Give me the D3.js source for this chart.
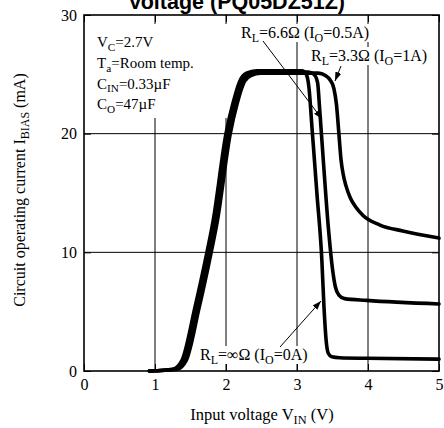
<!DOCTYPE html>
<html><head><meta charset="utf-8">
<script src="https://cdn.jsdelivr.net/npm/d3@7"></script>
<style>body{margin:0;background:#fff}svg{display:block}</style>
</head><body>
<svg id="c" width="444" height="428"></svg>
<script>
// ---- data ----
const xTicks = [0, 1, 2, 3, 4, 5];
const yTicks = [0, 10, 20, 30];
const xGrid = [1, 2, 3, 4];
const yGrid = [10, 20];
// Curve: RL = ∞ Ω (IO = 0A)
const vinInf  = [0.92, 1.25, 1.38, 1.56, 1.70, 1.82, 2.00, 2.10, 2.20, 2.29, 2.43, 3.07, 3.13, 3.17, 3.21, 3.28, 3.35, 3.38, 3.41, 3.44, 3.49, 3.60, 3.98, 5.0];
const ibInf   = [0, 0.15, 0.9, 5.3, 9.1, 12.7, 20.0, 22.6, 24.5, 25.1, 25.3, 25.3, 25.0, 23.8, 20.6, 15.0, 9.35, 5.4, 2.6, 1.5, 1.2, 1.12, 1.07, 1.0];
// Curve: RL = 6.6 Ω (IO = 0.5A)
const vin66   = [0.92, 1.28, 1.41, 1.59, 1.73, 1.85, 2.03, 2.13, 2.23, 2.32, 2.46, 3.16, 3.24, 3.29, 3.32, 3.37, 3.44, 3.50, 3.54, 3.59, 3.67, 3.98, 5.0];
const ib66    = [0, 0.15, 0.9, 5.3, 9.1, 12.7, 20.0, 22.6, 24.5, 25.0, 25.2, 25.2, 25.0, 24.3, 22.0, 17.8, 12.2, 8.6, 7.1, 6.4, 6.1, 5.95, 5.65];
// Curve: RL = 3.3 Ω (IO = 1A)
const vin33   = [0.92, 1.31, 1.44, 1.62, 1.76, 1.88, 2.06, 2.16, 2.26, 2.35, 2.49, 3.30, 3.40, 3.47, 3.52, 3.555, 3.59, 3.62, 3.65, 3.69, 3.75, 3.83, 3.93, 4.17, 4.49, 5.0];
const ib33    = [0, 0.15, 0.9, 5.3, 9.1, 12.7, 20.0, 22.6, 24.4, 24.9, 25.1, 25.1, 24.9, 24.5, 23.8, 22.5, 20.0, 17.8, 16.6, 15.6, 14.6, 13.8, 13.1, 12.3, 11.8, 11.2];

const svg = d3.select("#c");
const x = d3.scaleLinear().domain([0, 5]).range([84, 439]);
const y = d3.scaleLinear().domain([0, 30]).range([371, 15]);
const serif = "'Liberation Serif','Times New Roman',serif";

// title (cut off at top, as in the source image)
svg.append("text").attr("x", 345).attr("y", 9).attr("text-anchor", "end")
  .attr("font-family", "'Liberation Sans',Arial,sans-serif").attr("font-weight", "bold")
  .attr("font-size", 21.5).text("Voltage (PQ05DZ51Z)");

// grid
const g = svg.append("g");
g.selectAll(".gx").data(xGrid).join("line")
  .attr("x1", d => x(d)).attr("x2", d => x(d)).attr("y1", y(30)).attr("y2", y(0))
  .attr("stroke", "#000").attr("stroke-width", 1);
g.selectAll(".gy").data(yGrid).join("line")
  .attr("x1", x(0)).attr("x2", x(5)).attr("y1", d => y(d)).attr("y2", d => y(d))
  .attr("stroke", "#000").attr("stroke-width", 1);

// rich text helper
function rich(sel, parts, size) {
  parts.forEach(p => {
    if (p[1] === "sub") {
      sel.append("tspan").attr("font-size", size * 0.75).attr("dy", size * 0.25).text(p[0]);
    } else {
      const t = sel.append("tspan").text(p[0]);
      if (p[2]) t.attr("dy", -size * 0.25);
    }
  });
}

// white backgrounds for labels
const bg = svg.append("g").attr("fill", "#fff");
bg.append("rect").attr("x", 85).attr("y", 24).attr("width", 146).attr("height", 94);
bg.append("rect").attr("x", 238).attr("y", 24).attr("width", 146).attr("height", 18);
bg.append("rect").attr("x", 308).attr("y", 47).attr("width", 130).attr("height", 18);
bg.append("rect").attr("x", 197).attr("y", 346).attr("width", 124).attr("height", 18);

// axes
const ax = svg.append("g").attr("font-family", serif);
const axB = ax.append("g").attr("transform", `translate(0,${y(0)})`)
  .call(d3.axisBottom(x).tickValues(xTicks).tickSize(-7).tickPadding(8).tickFormat(d3.format("d")));
const axL = ax.append("g").attr("transform", `translate(${x(0)},0)`)
  .call(d3.axisLeft(y).tickValues(yTicks).tickSize(-7).tickPadding(7).tickFormat(d3.format("d")));
const axT = ax.append("g").attr("transform", `translate(0,${y(30)})`)
  .call(d3.axisTop(x).tickValues(xTicks).tickSize(-7).tickFormat(""));
const axR = ax.append("g").attr("transform", `translate(${x(5)},0)`)
  .call(d3.axisRight(y).tickValues(yTicks).tickSize(-7).tickFormat(""));
[axB, axL, axT, axR].forEach(a => {
  a.select(".domain").remove();
  a.selectAll("line").attr("stroke", "#000").attr("stroke-width", 1);
  a.selectAll("text").attr("font-size", 16).attr("font-family", serif).attr("fill", "#000");
});
svg.append("rect").attr("x", x(0)).attr("y", y(30)).attr("width", x(5) - x(0)).attr("height", y(0) - y(30))
  .attr("fill", "none").attr("stroke", "#000").attr("stroke-width", 1.6);

// curves
const line = d3.line().x(d => x(d[0])).y(d => y(d[1])).curve(d3.curveMonotoneX);
const series = [[vinInf, ibInf], [vin66, ib66], [vin33, ib33]];
svg.append("g").selectAll("path").data(series).join("path")
  .attr("d", s => line(s[0].map((v, i) => [v, s[1][i]])))
  .attr("fill", "none").attr("stroke", "#000").attr("stroke-width", 3.6)
  .attr("stroke-linejoin", "round").attr("stroke-linecap", "round");

// text box
const tb = svg.append("g").attr("font-family", serif).attr("font-size", 15).attr("fill", "#000");
const boxLines = [
  [["V"], ["C", "sub"], ["=2.7V", "", 1]],
  [["T"], ["a", "sub"], ["=Room temp.", "", 1]],
  [["C"], ["IN", "sub"], ["=0.33\u00B5F", "", 1]],
  [["C"], ["O", "sub"], ["=47\u00B5F", "", 1]]
];
boxLines.forEach((parts, i) => {
  rich(tb.append("text").attr("x", 97).attr("y", 47 + i * 20.8), parts, 15);
});

// curve labels
const lb = svg.append("g").attr("font-family", serif).attr("font-size", 16).attr("fill", "#000");
rich(lb.append("text").attr("x", 241).attr("y", 38),
  [["R"], ["L", "sub"], ["=6.6\u03A9 (I", "", 1], ["O", "sub"], ["=0.5A)", "", 1]], 16);
rich(lb.append("text").attr("x", 311).attr("y", 61),
  [["R"], ["L", "sub"], ["=3.3\u03A9 (I", "", 1], ["O", "sub"], ["=1A)", "", 1]], 16);
rich(lb.append("text").attr("x", 200).attr("y", 360),
  [["R"], ["L", "sub"], ["=\u221E\u03A9 (I", "", 1], ["O", "sub"], ["=0A)", "", 1]], 16);

// arrows
const defs = svg.append("defs");
defs.append("marker").attr("id", "ah").attr("viewBox", "0 0 10 10").attr("refX", 10).attr("refY", 5)
  .attr("markerWidth", 9).attr("markerHeight", 9).attr("markerUnits", "userSpaceOnUse").attr("orient", "auto")
  .append("path").attr("d", "M0,1.5 L10,5 L0,8.5 Z").attr("fill", "#000");
const arrows = [
  [[263, 41], [322, 119]],
  [[341, 66], [335, 81]],
  [[280, 347], [321, 301]]
];
svg.append("g").selectAll("line").data(arrows).join("line")
  .attr("x1", d => d[0][0]).attr("y1", d => d[0][1]).attr("x2", d => d[1][0]).attr("y2", d => d[1][1])
  .attr("stroke", "#000").attr("stroke-width", 1).attr("marker-end", "url(#ah)");

// axis titles
const xt = svg.append("text").attr("x", 262).attr("y", 420).attr("text-anchor", "middle")
  .attr("font-family", serif).attr("font-size", 16.5).attr("fill", "#000");
rich(xt, [["Input voltage V"], ["IN", "sub"], [" (V)", "", 1]], 16.5);
const yt = svg.append("text").attr("transform", "translate(25,190) rotate(-90)").attr("text-anchor", "middle")
  .attr("font-family", serif).attr("font-size", 16).attr("fill", "#000");
rich(yt, [["Circuit operating current I"], ["BIAS", "sub"], [" (mA)", "", 1]], 16);
</script>
</body></html>
